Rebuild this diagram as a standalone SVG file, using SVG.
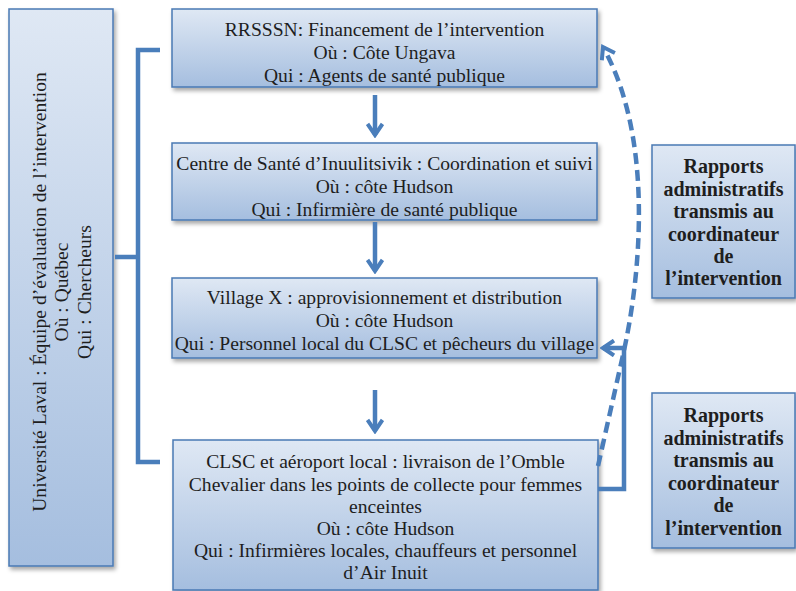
<svg xmlns="http://www.w3.org/2000/svg" width="796" height="591" viewBox="0 0 796 591">
<style>
.box{fill:url(#g);stroke:#4a79b4;stroke-width:1.5;filter:url(#sh)}
.t{font-family:"Liberation Serif","Times New Roman",serif;font-size:19.6px;fill:#1e1e1e;text-anchor:middle}
.b{font-weight:bold;font-size:20px}
.c{fill:none;stroke:#4a7ebb;stroke-width:4.5}
.d{fill:none;stroke:#4a7ebb;stroke-width:4.5;stroke-dasharray:11 6}
</style>
<defs>
<linearGradient id="g" x1="0" y1="0" x2="0" y2="1">
<stop offset="0" stop-color="#dfe8f4"/>
<stop offset="1" stop-color="#a5bedf"/>
</linearGradient>
<filter id="sh" x="-10%" y="-10%" width="130%" height="130%">
<feDropShadow dx="2" dy="3" stdDeviation="2" flood-color="#000" flood-opacity="0.35"/>
</filter>
<marker id="ah" viewBox="0 0 16 18" refX="13" refY="9" markerWidth="16" markerHeight="18" markerUnits="userSpaceOnUse" orient="auto">
<path d="M2,1.5 L13,9 L2,16.5" fill="none" stroke="#4a7ebb" stroke-width="4"/>
</marker>
</defs>
<rect width="796" height="591" fill="#fff"/>
<g id="n-laval">
<rect class="box" x="9" y="9" width="104" height="557"/>
<g transform="rotate(-90)">
<text class="t" x="-292" y="46">Université Laval : Équipe d’évaluation de l’intervention</text>
<text class="t" x="-292" y="68">Où : Québec</text>
<text class="t" x="-292" y="91">Qui : Chercheurs</text>
</g>
</g>
<g id="n-rrsssn">
<rect class="box" x="172" y="9" width="425" height="78"/>
<text class="t" x="384.5" y="36">RRSSSN: Financement de l’intervention</text>
<text class="t" x="384.5" y="59">Où : Côte Ungava</text>
<text class="t" x="384.5" y="82">Qui : Agents de santé publique</text>
</g>
<g id="n-centre">
<rect class="box" x="172" y="143" width="425" height="77"/>
<text class="t" x="384.5" y="170">Centre de Santé d’Inuulitsivik : Coordination et suivi</text>
<text class="t" x="384.5" y="193">Où : côte Hudson</text>
<text class="t" x="384.5" y="216">Qui : Infirmière de santé publique</text>
</g>
<g id="n-village">
<rect class="box" x="172" y="278" width="425" height="80"/>
<text class="t" x="384.5" y="304">Village X : approvisionnement et distribution</text>
<text class="t" x="384.5" y="327">Où : côte Hudson</text>
<text class="t" x="384.5" y="350">Qui : Personnel local du CLSC et pêcheurs du village</text>
</g>
<g id="n-clsc">
<rect class="box" x="173" y="440" width="425" height="150"/>
<text class="t" x="385.5" y="468">CLSC et aéroport local : livraison de l’Omble</text>
<text class="t" x="385.5" y="491">Chevalier dans les points de collecte pour femmes</text>
<text class="t" x="385.5" y="513">enceintes</text>
<text class="t" x="385.5" y="535">Où : côte Hudson</text>
<text class="t" x="385.5" y="557">Qui : Infirmières locales, chauffeurs et personnel</text>
<text class="t" x="385.5" y="579">d’Air Inuit</text>
</g>
<g id="n-rapports1">
<rect class="box" x="652" y="145" width="143" height="153"/>
<text class="t b" x="723.5" y="173">Rapports</text>
<text class="t b" x="723.5" y="196">administratifs</text>
<text class="t b" x="723.5" y="218">transmis au</text>
<text class="t b" x="723.5" y="241">coordinateur</text>
<text class="t b" x="723.5" y="263">de</text>
<text class="t b" x="723.5" y="285">l’intervention</text>
</g>
<g id="n-rapports2">
<rect class="box" x="652" y="393" width="143" height="155"/>
<text class="t b" x="723.5" y="422">Rapports</text>
<text class="t b" x="723.5" y="445">administratifs</text>
<text class="t b" x="723.5" y="467">transmis au</text>
<text class="t b" x="723.5" y="490">coordinateur</text>
<text class="t b" x="723.5" y="512">de</text>
<text class="t b" x="723.5" y="535">l’intervention</text>
</g>
<g id="connectors">
<path class="c" d="M160,50 H138 V462 H160 M115,257 H138"/>
<path class="c" d="M375,95 V135" marker-end="url(#ah)"/>
<path class="c" d="M375,222 V271" marker-end="url(#ah)"/>
<path class="c" d="M375,390 V431" marker-end="url(#ah)"/>
<path class="c" d="M598,489 H624 V348 H603" marker-end="url(#ah)"/>
<path class="d" d="M598,466 L623,355 C640,280 655,140 603,47" marker-end="url(#ah)"/>
</g>
</svg>
